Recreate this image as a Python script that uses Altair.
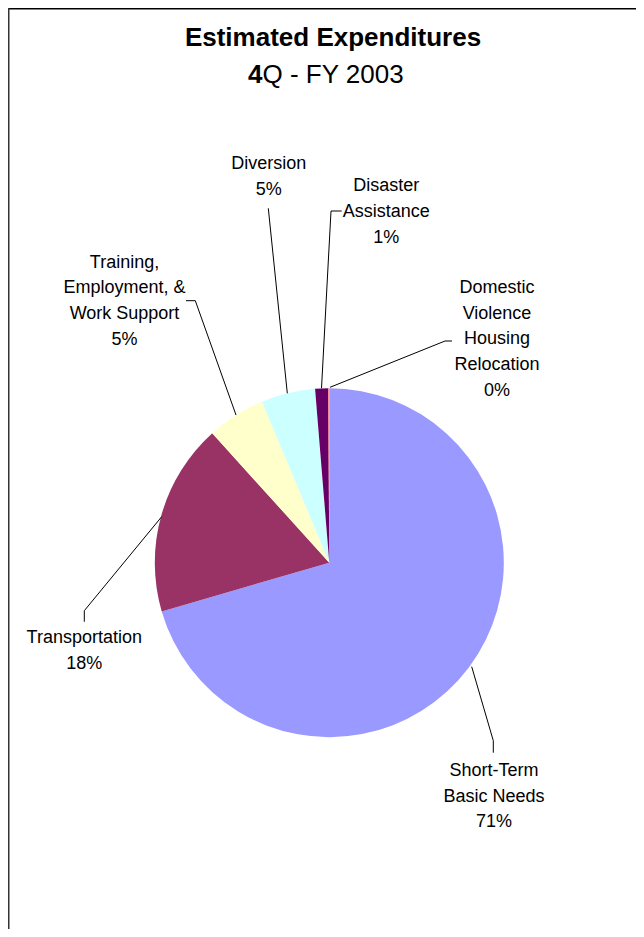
import altair as alt
import pandas as pd

# ---- data ----
categories = [
    "Short-Term Basic Needs",
    "Transportation",
    "Training, Employment, & Work Support",
    "Diversion",
    "Disaster Assistance",
    "Domestic Violence Housing Relocation",
]
values = [70.5, 17.8, 5.4, 5.0, 1.2, 0.1]
label_lines = [
    ["Short-Term", "Basic Needs"],
    ["Transportation"],
    ["Training,", "Employment, &", "Work Support"],
    ["Diversion"],
    ["Disaster", "Assistance"],
    ["Domestic", "Violence", "Housing", "Relocation"],
]
colors = ["#9999FF", "#993366", "#FFFFCC", "#CCFFFF", "#660066", "#FF8080"]

title_text = "Estimated Expenditures"
subtitle_bold = "4"
subtitle_rest = "Q - FY 2003"

# ---- layout (reference pixel coordinates) ----
W, H = 628, 921
CX, CY, R = 329.3, 562.7, 174.5
label_pos = [(494.0, 770.8), (84.3, 638.0), (124.5, 262.5), (268.7, 164.0), (386.2, 186.3), (497.0, 288.0)]
line_gap = 25.7
leaders = [
    [(471.7, 666.7), (493.3, 740.7), (493.3, 752.7)],
    [(161.7, 516.7), (84.3, 610.7), (84.3, 621.7)],
    [(236.0, 415.0), (195.3, 300.7), (186.0, 300.7)],
    [(287.3, 393.3), (268.3, 208.3)],
    [(321.5, 388.3), (331.0, 211.0), (341.7, 211.0)],
    [(330.0, 387.3), (445.0, 341.0), (452.0, 341.0)],
]

LABEL_FONT = "Liberation Sans, Arial, sans-serif"
TITLE_FONT = "Liberation Sans, Arial, sans-serif"

pie_df = pd.DataFrame({"category": categories, "value": values, "order": list(range(len(categories)))})

rows = []
for i, cat in enumerate(categories):
    lines = label_lines[i] + [f"{int(values[i] + 0.5)}%"]
    x0, y0 = label_pos[i]
    for j, t in enumerate(lines):
        rows.append({"category": cat, "text": t, "x": x0, "y": y0 + j * line_gap})
label_df = pd.DataFrame(rows)

lrows = []
for i, pts in enumerate(leaders):
    for k, (x, y) in enumerate(pts):
        lrows.append({"id": i, "k": k, "x": x, "y": y})
leader_df = pd.DataFrame(lrows)

xs = alt.Scale(domain=[8, 8 + W], nice=False, zero=False)
ys = alt.Scale(domain=[8, 8 + H], nice=False, zero=False, reverse=True)

pie = alt.Chart(pie_df).mark_arc(radius=R, stroke=None).encode(
    theta=alt.Theta("value:Q", stack=True),
    order=alt.Order("order:Q"),
    color=alt.Color("category:N", scale=alt.Scale(domain=categories, range=colors), legend=None),
    x=alt.value(CX - 8),
    y=alt.value(CY - 8),
)

labels = alt.Chart(label_df).mark_text(
    font=LABEL_FONT, fontSize=18, align="center", baseline="middle", color="#000000"
).encode(
    x=alt.X("x:Q", scale=xs, axis=None),
    y=alt.Y("y:Q", scale=ys, axis=None),
    text="text:N",
)

lines = alt.Chart(leader_df).mark_line(color="#000000", strokeWidth=1).encode(
    x=alt.X("x:Q", scale=xs, axis=None),
    y=alt.Y("y:Q", scale=ys, axis=None),
    detail="id:N",
    order="k:Q",
)

title = alt.Chart(pd.DataFrame({"t": [title_text]})).mark_text(
    font=TITLE_FONT, fontSize=26, fontWeight="bold", align="center", baseline="alphabetic", color="#000000"
).encode(x=alt.value(333 - 8), y=alt.value(46 - 8), text="t:N")

sub1 = alt.Chart(pd.DataFrame({"t": [subtitle_bold]})).mark_text(
    font=TITLE_FONT, fontSize=26, fontWeight="bold", align="right", baseline="alphabetic", color="#000000"
).encode(x=alt.value(262.5 - 8), y=alt.value(82.5 - 8), text="t:N")

sub2 = alt.Chart(pd.DataFrame({"t": [subtitle_rest]})).mark_text(
    font=TITLE_FONT, fontSize=26, align="left", baseline="alphabetic", color="#000000"
).encode(x=alt.value(262.5 - 8), y=alt.value(82.5 - 8), text="t:N")

frame_top = alt.Chart(pd.DataFrame({"a": [0]})).mark_rule(color="#000000", strokeWidth=1.5).encode(
    x=alt.value(0), x2=alt.value(W), y=alt.value(0.75)
)
frame_left = alt.Chart(pd.DataFrame({"a": [0]})).mark_rule(color="#333333", strokeWidth=1.5).encode(
    x=alt.value(0.75), y=alt.value(0), y2=alt.value(H)
)

chart = alt.layer(pie, lines, labels, title, sub1, sub2, frame_top, frame_left).properties(
    width=W, height=H, padding=0, autosize=alt.AutoSizeParams(type="none")
).configure_view(stroke=None)

chart.save("out.html", embed_options={"renderer": "svg", "actions": False})
